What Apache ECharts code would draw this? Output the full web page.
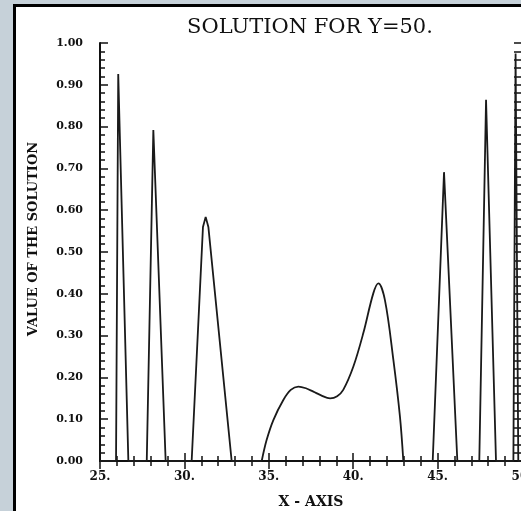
<!DOCTYPE html>
<html>
<head>
<meta charset="utf-8">
<script src="https://cdn.jsdelivr.net/npm/echarts@6/dist/echarts.min.js"></script>
<style>
  html, body { margin: 0; padding: 0; background: #c6d1d9; }
  #chart { width: 521px; height: 511px; }
</style>
</head>
<body>
<div id="chart"></div>
<script>
// narrow peaks (straight segments), null splits the two groups
const peakX = [25, 25.95, 26.08, 26.68, 27.77, 28.16, 28.89, 30.43, 31.1, 31.26, 31.42, 32.8, 34.58,
  null,
  42.97, 44.71, 45.38, 46.17, 47.47, 47.87, 48.46, 49.49, 49.62, 49.78, 50];
const peakY = [0, 0, 0.926, 0, 0, 0.792, 0, 0, 0.56, 0.584, 0.56, 0, 0,
  null,
  0, 0, 0.691, 0, 0, 0.864, 0, 0, 0.975, 0, 0];

// the broad double hump between 34.5 and 43
const humpX = [34.58, 34.87, 35.27, 35.86, 36.3, 36.75, 37.2, 37.64, 38.1, 38.63, 39.05, 39.41,
  40.01, 40.6, 41.19, 41.49, 41.88, 42.38, 42.77, 42.97];
const humpY = [0, 0.05, 0.098, 0.146, 0.17, 0.178, 0.174, 0.166, 0.157, 0.15, 0.155, 0.17,
  0.226, 0.306, 0.401, 0.425, 0.385, 0.242, 0.106, 0];

const xTicks = [25, 50, 5];
const yTicks = [0, 1, 0.1];

const zip = (xs, ys) => xs.map((x, i) => (x === null ? [null, null] : [x, ys[i]]));

const axisColor = "#111";
const labelFont = {
  color: "#111",
  fontFamily: "DejaVu Serif",
  fontWeight: "bold",
  fontSize: 11,
};

let myChart = echarts.init(document.getElementById("chart"));

let option = {
  backgroundColor: "#c6d1d9",
  animation: false,
  graphic: [
    {
      type: "rect",
      z: -10,
      shape: { x: 14.5, y: 5.5, width: 540, height: 540 },
      style: { fill: "#fff", stroke: "#000", lineWidth: 3 },
    },
  ],
  title: {
    text: "SOLUTION FOR Y=50.",
    left: 305,
    top: 12,
    textAlign: "center",
    textStyle: {
      color: "#111",
      fontFamily: "DejaVu Serif",
      fontWeight: "normal",
      fontSize: 21,
    },
  },
  grid: {
    left: 100,
    top: 43,
    width: 422,
    height: 418,
    outerBoundsMode: "none",
    containLabel: false,
  },
  xAxis: [
    {
      type: "value",
      position: "bottom",
      min: xTicks[0],
      max: xTicks[1],
      interval: xTicks[2],
      name: "X - AXIS",
      nameLocation: "middle",
      nameGap: 34,
      nameTextStyle: {
        color: "#111",
        fontFamily: "DejaVu Serif",
        fontWeight: "bold",
        fontSize: 14,
      },
      axisLine: { lineStyle: { color: axisColor, width: 2 } },
      axisTick: { inside: true, length: 8, lineStyle: { color: axisColor, width: 1.5 } },
      minorTick: { show: true, splitNumber: 5, length: 5, lineStyle: { color: axisColor, width: 1.5 } },
      splitLine: { show: false },
      axisLabel: {
        ...labelFont,
        fontSize: 12,
        margin: 10,
        showMaxLabel: true,
        formatter: (v) => v + ".",
      },
    },
    {
      type: "value",
      position: "top",
      min: xTicks[0],
      max: xTicks[1],
      interval: xTicks[2],
      axisLine: { lineStyle: { color: axisColor, width: 2 } },
      axisTick: { inside: true, length: 8, lineStyle: { color: axisColor, width: 1.5 } },
      minorTick: { show: true, splitNumber: 5, length: 5, lineStyle: { color: axisColor, width: 1.5 } },
      splitLine: { show: false },
      axisLabel: { show: false },
    },
  ],
  yAxis: [
    {
      type: "value",
      position: "left",
      min: yTicks[0],
      max: yTicks[1],
      interval: yTicks[2],
      name: "VALUE OF THE SOLUTION",
      nameLocation: "middle",
      nameGap: 60,
      nameTextStyle: {
        color: "#111",
        fontFamily: "DejaVu Serif",
        fontWeight: "bold",
        fontSize: 13,
        padding: [0, 0, 0, 26],
      },
      axisLine: { lineStyle: { color: axisColor, width: 2 } },
      axisTick: { inside: true, length: 8, lineStyle: { color: axisColor, width: 1.5 } },
      minorTick: { show: true, splitNumber: 5, length: 5, lineStyle: { color: axisColor, width: 1.5 } },
      splitLine: { show: false },
      axisLabel: {
        ...labelFont,
        margin: 17,
        formatter: (v) => v.toFixed(2),
      },
    },
    {
      type: "value",
      position: "right",
      min: yTicks[0],
      max: yTicks[1],
      interval: yTicks[2],
      axisLine: { lineStyle: { color: axisColor, width: 2 } },
      axisTick: { inside: true, length: 8, lineStyle: { color: axisColor, width: 1.5 } },
      minorTick: { show: true, splitNumber: 5, length: 8, lineStyle: { color: axisColor, width: 1.5 } },
      splitLine: { show: false },
      axisLabel: { show: false },
    },
  ],
  series: [
    {
      type: "line",
      data: zip(peakX, peakY),
      showSymbol: false,
      connectNulls: false,
      lineStyle: { color: "#1a1a1a", width: 1.8 },
    },
    {
      type: "line",
      data: zip(humpX, humpY),
      showSymbol: false,
      smooth: 0.35,
      lineStyle: { color: "#1a1a1a", width: 1.8 },
    },
  ],
};

myChart.setOption(option);
</script>
</body>
</html>
